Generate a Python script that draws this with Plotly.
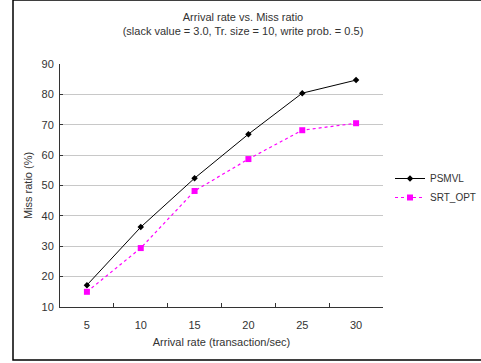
import plotly.graph_objects as go

categories = ["5", "10", "15", "20", "25", "30"]
psmvl = [17.2, 36.3, 52.4, 66.9, 80.4, 84.7]
srt_opt = [15.0, 29.4, 48.2, 58.7, 68.2, 70.5]

W, H = 481, 363
L, R, T, B = 60, 98, 64, 56
pw, ph = W - L - R, H - T - B

def px(x):
    return (x - L) / pw

def py(y):
    return (H - B - y) / ph

font = "Liberation Sans, Arial, sans-serif"
txt = "#333333"

fig = go.Figure()
fig.add_trace(go.Scatter(
    x=categories, y=psmvl, name="PSMVL", mode="lines+markers",
    line=dict(color="black", width=1),
    marker=dict(symbol="diamond", size=5, color="black"),
))
fig.add_trace(go.Scatter(
    x=categories, y=srt_opt, name="SRT_OPT", mode="lines+markers",
    line=dict(color="#ff00ff", width=1.2, dash="dot"),
    marker=dict(symbol="square", size=6, color="#ff00ff"),
))

fig.update_layout(
    width=W, height=H,
    margin=dict(l=L, r=R, t=T, b=B, autoexpand=False),
    paper_bgcolor="white", plot_bgcolor="white",
    font=dict(family=font, size=11, color=txt),
    title=dict(
        text="Arrival rate vs. Miss ratio<br>(slack value = 3.0, Tr. size = 10, write prob. = 0.5)",
        x=243 / W, xref="container", xanchor="center", y=1 - 21 / H, yanchor="middle",
        font=dict(size=11, color=txt),
    ),
    showlegend=True,
    legend=dict(
        x=390 / W, y=1 - 164 / H, xref="container", yref="container",
        xanchor="left", yanchor="top",
        font=dict(size=10, color=txt), bgcolor="rgba(0,0,0,0)",
        itemwidth=30, tracegroupgap=0,
    ),
    xaxis=dict(
        type="category", showgrid=False, showline=True, linecolor="#333333", linewidth=1,
        ticks="inside", tickson="boundaries", ticklen=4, tickcolor="#333333",
        title=dict(text="Arrival rate (transaction/sec)", standoff=8, font=dict(size=11)),
        tickfont=dict(size=11), range=[-0.5, 5.5], ticklabelstandoff=8,
    ),
    yaxis=dict(
        range=[10, 90], dtick=10, showgrid=True, gridcolor="#c8c8c8", gridwidth=1,
        showline=True, linecolor="#333333", linewidth=1, zeroline=False,
        ticks="inside", ticklen=3, tickcolor="#333333",
        title=dict(text="Miss ratio (%)", standoff=6, font=dict(size=11)),
        tickfont=dict(size=11), ticklabelstandoff=3,
    ),
    shapes=[dict(
        type="rect", xref="paper", yref="paper",
        x0=px(13), x1=px(482), y0=py(360), y1=py(0),
        line=dict(color="black", width=1.5), fillcolor="rgba(0,0,0,0)", layer="below",
    )],
)

fig.write_html("out.html")
